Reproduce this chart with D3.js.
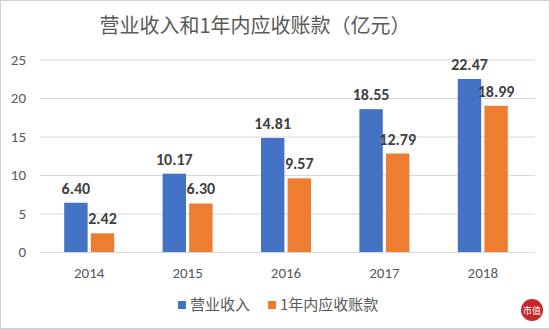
<!DOCTYPE html>
<html><head><meta charset="utf-8">
<script src="https://cdn.jsdelivr.net/npm/d3@7"></script>
<style>body{margin:0;background:#fff;}svg{display:block;font-family:"Noto Sans CJK SC","Microsoft YaHei",sans-serif;}</style>
</head><body>
<svg id="c" width="550" height="329"></svg>
<script>
const title = "营业收入和1年内应收账款（亿元）";
const years = ["2014","2015","2016","2017","2018"];
const seriesNames = ["营业收入","1年内应收账款"];
const revenue = [6.40,10.17,14.81,18.55,22.47];
const receivables = [2.42,6.30,9.57,12.79,18.99];
const yTicks = [0,5,10,15,20,25];
const colors = ["#4472C4","#ED7D31"];
const numFont = "Carlito, Calibri, 'Liberation Sans', sans-serif";

const svg = d3.select("#c");
svg.append("rect").attr("x",0.5).attr("y",0.5).attr("width",549).attr("height",328).attr("fill","#fff").attr("stroke","#d0d0d0");

const x = d3.scaleBand().domain(years).range([40,532]);
const y = d3.scaleLinear().domain([0,25]).range([252,59.5]);
const inner = d3.scaleBand().domain([0,1]).range([0,50]).paddingInner(0.12);

// grid
const grid = svg.append("g").attr("transform","translate(40,0)")
  .call(d3.axisLeft(y).tickValues(yTicks).tickSize(-495).tickFormat(""));
grid.select(".domain").remove();
grid.selectAll("line").attr("stroke","#d9d9d9");

// y labels
const ya = svg.append("g").attr("transform","translate(26,0)")
  .call(d3.axisLeft(y).tickValues(yTicks).tickSize(0).tickPadding(0));
ya.select(".domain").remove();
ya.selectAll("text").attr("fill","#595959").attr("font-size",15).attr("font-family",numFont);

// x labels
const xa = svg.append("g").attr("transform","translate(0,252)")
  .call(d3.axisBottom(x).tickSize(0).tickPadding(15));
xa.select(".domain").remove();
xa.selectAll("text").attr("fill","#595959").attr("font-size",15).attr("font-family",numFont);

const data = years.map((yr,i)=>({yr, vals:[revenue[i],receivables[i]]}));
const groups = svg.append("g").selectAll("g").data(data).join("g")
  .attr("transform",d=>`translate(${x(d.yr)+x.bandwidth()/2-25},0)`);
groups.selectAll("rect").data(d=>d.vals.map((v,k)=>({v,k}))).join("rect")
  .attr("x",d=>inner(d.k)).attr("width",inner.bandwidth())
  .attr("y",d=>y(d.v)).attr("height",d=>y(0)-y(d.v)).attr("fill",d=>colors[d.k]);
groups.selectAll("text").data(d=>d.vals.map((v,k)=>({v,k}))).join("text")
  .attr("x",d=>inner(d.k)+inner.bandwidth()/2).attr("y",d=>y(d.v)-9)
  .attr("text-anchor","middle").attr("font-size",16).attr("font-weight","bold")
  .attr("fill","#404040").attr("font-family",numFont)
  .text(d=>d.v.toFixed(2));

// title
svg.append("text").attr("x",255).attr("y",33).attr("text-anchor","middle")
  .attr("font-size",20).attr("fill","#595959").text(title);

// legend
const leg = svg.append("g").attr("transform","translate(178,305)");
const lx = [0,90];
seriesNames.forEach((n,i)=>{
  leg.append("rect").attr("x",lx[i]).attr("y",-4).attr("width",8).attr("height",8).attr("fill",colors[i]);
  leg.append("text").attr("x",lx[i]+12).attr("y",5).attr("font-size",15).attr("fill","#595959").text(n);
});

// logo
const logo = svg.append("g").attr("transform","translate(532,310)");
logo.append("circle").attr("r",11).attr("fill","#c8282d");
logo.append("text").attr("x",0).attr("y",4).attr("text-anchor","middle").attr("font-size",9).attr("fill","#fff").text("市值");
</script>
</body></html>
